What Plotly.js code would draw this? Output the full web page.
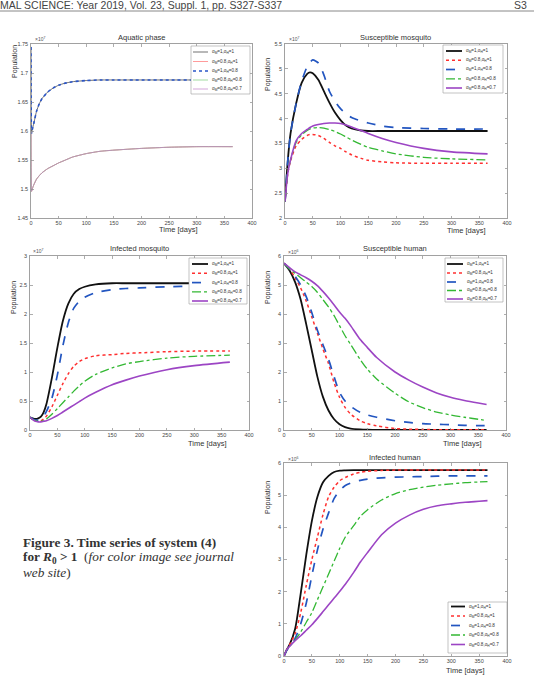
<!DOCTYPE html>
<html>
<head>
<meta charset="utf-8">
<script src="https://cdn.plot.ly/plotly-3.0.1.min.js"></script>
<style>
  html, body { margin: 0; padding: 0; background: #ffffff; }
  #fig { width: 534px; height: 677px; }
</style>
</head>
<body>
<div id="fig"></div>
<script>
// ---- Time series values (population in units of the axis multiplier) ----

// Aquatic phase (x10^7)
const tAquatic = [0, 1, 2, 3, 5, 10, 15, 20, 30, 40, 50, 60, 75, 100, 125, 150, 200, 250, 300, 365];
const aquaticM1 = [1.745, 1.596, 1.601, 1.605, 1.613, 1.634, 1.647, 1.656, 1.667, 1.674, 1.679, 1.682, 1.685, 1.687, 1.688, 1.688, 1.688, 1.688, 1.688, 1.688];
const aquaticM08 = [1.60, 1.496, 1.499, 1.502, 1.507, 1.517, 1.523, 1.528, 1.535, 1.540, 1.545, 1.549, 1.555, 1.561, 1.565, 1.567, 1.570, 1.572, 1.573, 1.573];

// Susceptible mosquito (x10^7)
const tSusMos = [0, 5, 10, 20, 30, 40, 45, 50, 60, 70, 80, 90, 100, 110, 120, 137, 150, 175, 200, 250, 300, 365];
const susMosA = [2.33, 3.15, 3.7, 4.3, 4.72, 4.9, 4.93, 4.91, 4.78, 4.55, 4.32, 4.12, 3.97, 3.86, 3.80, 3.76, 3.75, 3.75, 3.75, 3.75, 3.75, 3.75];
const susMosB = [2.33, 2.9, 3.15, 3.45, 3.58, 3.66, 3.68, 3.68, 3.66, 3.6, 3.52, 3.45, 3.4, 3.33, 3.27, 3.2, 3.16, 3.13, 3.11, 3.10, 3.10, 3.10];
const susMosC = [2.33, 3.15, 3.7, 4.3, 4.75, 5.05, 5.13, 5.18, 5.12, 4.88, 4.55, 4.35, 4.2, 4.1, 4.02, 3.95, 3.91, 3.85, 3.82, 3.80, 3.79, 3.79];
const susMosD = [2.33, 2.9, 3.17, 3.52, 3.67, 3.76, 3.79, 3.81, 3.82, 3.81, 3.78, 3.74, 3.69, 3.63, 3.57, 3.48, 3.42, 3.35, 3.29, 3.22, 3.19, 3.17];
const susMosE = [2.33, 2.9, 3.17, 3.55, 3.7, 3.78, 3.82, 3.85, 3.88, 3.9, 3.91, 3.91, 3.9, 3.87, 3.83, 3.76, 3.7, 3.6, 3.52, 3.4, 3.33, 3.29];

// Infected mosquito (x10^7)
const tInfMos = [0, 5, 10, 15, 20, 25, 30, 40, 50, 60, 70, 80, 90, 100, 120, 150, 175, 200, 250, 300, 365];
const infMosA = [0.22, 0.2, 0.19, 0.2, 0.23, 0.31, 0.45, 0.9, 1.42, 1.88, 2.18, 2.35, 2.43, 2.47, 2.51, 2.53, 2.53, 2.53, 2.53, 2.53, 2.53];
const infMosB = [0.22, 0.18, 0.16, 0.15, 0.16, 0.19, 0.24, 0.4, 0.6, 0.8, 0.97, 1.1, 1.18, 1.23, 1.28, 1.3, 1.32, 1.33, 1.35, 1.36, 1.36];
const infMosC = [0.22, 0.19, 0.17, 0.17, 0.19, 0.24, 0.32, 0.55, 0.95, 1.45, 1.85, 2.1, 2.22, 2.29, 2.37, 2.42, 2.44, 2.45, 2.47, 2.48, 2.48];
const infMosD = [0.22, 0.18, 0.16, 0.15, 0.15, 0.16, 0.19, 0.27, 0.37, 0.47, 0.57, 0.67, 0.76, 0.84, 0.96, 1.07, 1.14, 1.18, 1.24, 1.27, 1.29];
const infMosE = [0.22, 0.18, 0.15, 0.14, 0.14, 0.15, 0.16, 0.2, 0.25, 0.31, 0.37, 0.43, 0.49, 0.55, 0.65, 0.78, 0.86, 0.93, 1.04, 1.11, 1.17];

// Susceptible human (x10^6)
const tSusHum = [0, 10, 20, 30, 40, 50, 60, 70, 80, 90, 100, 110, 120, 137, 150, 167, 200, 225, 250, 275, 300, 325, 350, 365];
const susHumA = [5.75, 5.5, 5.1, 4.5, 3.65, 2.75, 1.85, 1.15, 0.68, 0.38, 0.2, 0.1, 0.05, 0.02, 0.01, 0.005, 0, 0, 0, 0, 0, 0, 0, 0];
const susHumB = [5.75, 5.55, 5.25, 4.9, 4.45, 3.9, 3.35, 2.8, 2.3, 1.65, 1.13, 0.78, 0.55, 0.32, 0.22, 0.14, 0.05, 0.03, 0.02, 0.01, 0.01, 0.01, 0.01, 0.01];
const susHumC = [5.75, 5.55, 5.3, 5.0, 4.6, 4.05, 3.45, 2.95, 2.45, 1.85, 1.3, 1.0, 0.82, 0.61, 0.52, 0.44, 0.32, 0.26, 0.22, 0.2, 0.18, 0.16, 0.15, 0.15];
const susHumD = [5.75, 5.55, 5.4, 5.25, 5.1, 4.95, 4.75, 4.5, 4.25, 3.95, 3.6, 3.25, 2.95, 2.44, 2.1, 1.76, 1.27, 0.97, 0.77, 0.62, 0.52, 0.44, 0.37, 0.33];
const susHumE = [5.75, 5.6, 5.45, 5.35, 5.25, 5.13, 4.98, 4.78, 4.56, 4.32, 4.07, 3.85, 3.6, 3.13, 2.85, 2.5, 2.0, 1.72, 1.48, 1.28, 1.13, 1.02, 0.93, 0.88];

// Infected human (x10^6)
const tInfHum = [0, 5, 10, 20, 30, 40, 50, 60, 70, 80, 90, 100, 110, 125, 137, 150, 175, 200, 225, 250, 275, 300, 325, 350, 365];
const infHumA = [0, 0.2, 0.35, 0.85, 1.95, 3.15, 4.2, 4.95, 5.4, 5.6, 5.72, 5.76, 5.77, 5.78, 5.78, 5.78, 5.78, 5.78, 5.78, 5.78, 5.78, 5.78, 5.78, 5.78, 5.78];
const infHumB = [0, 0.2, 0.35, 0.7, 1.35, 2.2, 3.0, 3.7, 4.4, 4.95, 5.25, 5.45, 5.55, 5.66, 5.71, 5.74, 5.77, 5.78, 5.78, 5.78, 5.78, 5.78, 5.78, 5.78, 5.78];
const infHumC = [0, 0.18, 0.3, 0.55, 1.0, 1.65, 2.5, 3.3, 3.95, 4.45, 4.9, 5.15, 5.3, 5.41, 5.46, 5.5, 5.54, 5.56, 5.57, 5.58, 5.59, 5.6, 5.6, 5.6, 5.6];
const infHumD = [0, 0.2, 0.3, 0.5, 0.75, 1.05, 1.35, 1.75, 2.15, 2.55, 2.95, 3.35, 3.7, 4.05, 4.34, 4.55, 4.85, 5.05, 5.17, 5.25, 5.31, 5.35, 5.39, 5.41, 5.42];
const infHumE = [0, 0.2, 0.3, 0.48, 0.63, 0.8, 0.97, 1.17, 1.38, 1.59, 1.8, 2.01, 2.23, 2.6, 2.92, 3.22, 3.77, 4.13, 4.38, 4.56, 4.67, 4.73, 4.78, 4.81, 4.83];

// Legend labels (fractional orders)
const caseLabels = [
  "α<sub>M</sub>=1,α<sub>H</sub>=1",
  "α<sub>M</sub>=0.8,α<sub>H</sub>=1",
  "α<sub>M</sub>=1,α<sub>H</sub>=0.8",
  "α<sub>M</sub>=0.8,α<sub>H</sub>=0.8",
  "α<sub>M</sub>=0.8,α<sub>H</sub>=0.7"
];

// ---- Styling ----
const W = 534, H = 677;
const FONT = "Liberation Sans, Arial, sans-serif";
const styles = [
  { color: "#111111", dash: "solid",   width: 1.8 },
  { color: "#ff3030", dash: "dot",     width: 1.5 },
  { color: "#2255c0", dash: "dash",    width: 1.7 },
  { color: "#33b833", dash: "dashdot", width: 1.3 },
  { color: "#9c45c4", dash: "solid",   width: 1.6 }
];
const thinStyles = [
  { color: "#333333", dash: "solid", width: 0.7 },
  { color: "#ff7070", dash: "solid", width: 0.7 },
  { color: "#2a55c8", dash: "dot",   width: 1.6 },
  { color: "#7acc7a", dash: "solid", width: 0.7 },
  { color: "#c080c8", dash: "solid", width: 0.7 }
];

const px = x => x / W;
const py = y => 1 - y / H;

// Panels: pixel boxes, y ranges, tick step, multiplier, titles
const panels = [
  { id: "", box: [31, 252, 44, 218], yr: [1.45, 1.75], dy: 0.05, exp: "7", title: "Aquatic phase",
    titleXY: [142, 37], ylab: [15, 62], xlab: [178, 229], expXY: [40, 39],
    t: tAquatic, series: [aquaticM1, aquaticM08, aquaticM1, aquaticM08, aquaticM08], thin: true,
    legend: [191, 250, 46, 94], rows: [52, 61.5, 71, 80, 89], sample: [193, 208] },
  { id: "2", box: [285, 507, 44, 218], yr: [2, 5.5], dy: 0.5, exp: "7", title: "Susceptible mosquito",
    titleXY: [395, 37], ylab: [268, 75], xlab: [466, 230], expXY: [294, 39],
    t: tSusMos, series: [susMosA, susMosB, susMosC, susMosD, susMosE],
    legend: [443, 503, 45, 93], rows: [51, 60.3, 69.5, 78.8, 88], sample: [446, 462] },
  { id: "3", box: [30, 249, 256, 430], yr: [0, 3], dy: 0.5, exp: "7", title: "Infected mosquito",
    titleXY: [139, 249], ylab: [14, 298], xlab: [207, 443], expXY: [38, 251],
    t: tInfMos, series: [infMosA, infMosB, infMosC, infMosD, infMosE],
    legend: [189, 247, 258, 304], rows: [264, 273.3, 282.6, 291.9, 301], sample: [192, 208] },
  { id: "4", box: [284, 506, 256, 430], yr: [0, 6], dy: 1, exp: "6", title: "Susceptible human",
    titleXY: [395, 249], ylab: [268, 288], xlab: [462, 443], expXY: [293, 252],
    t: tSusHum, series: [susHumA, susHumB, susHumC, susHumD, susHumE],
    legend: [445, 503, 258, 302], rows: [264, 273, 282, 290.5, 299], sample: [447, 463] },
  { id: "5", box: [284, 507, 463, 656], yr: [0, 6], dy: 1, exp: "6", title: "Infected human",
    titleXY: [395, 457], ylab: [268, 498], xlab: [465, 670], expXY: [293, 459],
    t: tInfHum, series: [infHumA, infHumB, infHumC, infHumD, infHumE],
    legend: [448, 507, 602, 653], rows: [606.5, 616, 625.5, 635, 644.5], sample: [451, 465] }
];

const traces = [];
const layout = {
  width: W, height: H,
  margin: { l: 0, r: 0, t: 0, b: 0 },
  paper_bgcolor: "#ffffff",
  plot_bgcolor: "#ffffff",
  showlegend: false,
  font: { family: FONT, color: "#333333" },
  annotations: [],
  shapes: []
};

function note(x, y, text, size, extra) {
  layout.annotations.push(Object.assign({
    xref: "paper", yref: "paper", x: px(x), y: py(y),
    text: text, showarrow: false, xanchor: "center", yanchor: "middle",
    font: { family: FONT, size: size, color: "#333333" }
  }, extra || {}));
}

panels.forEach(p => {
  const [x0, x1, y0, y1] = p.box;
  const axisCommon = {
    showline: true, linecolor: "#8a8a8a", linewidth: 0.8, mirror: "ticks",
    ticks: "inside", ticklen: 2.5, tickwidth: 0.7, tickcolor: "#8a8a8a",
    showgrid: false, zeroline: false, fixedrange: true,
    tickfont: { family: FONT, size: 5.5, color: "#444444" }
  };
  layout["xaxis" + p.id] = Object.assign({}, axisCommon, {
    domain: [px(x0), px(x1)], range: [0, 400], dtick: 50, tick0: 0,
    anchor: "y" + p.id
  });
  layout["yaxis" + p.id] = Object.assign({}, axisCommon, {
    domain: [py(y1), py(y0)], range: p.yr, dtick: p.dy, tick0: p.yr[0],
    anchor: "x" + p.id, ticklabelstandoff: 1
  });

  const sty = p.thin ? thinStyles : styles;
  p.series.forEach((ys, i) => {
    traces.push({
      type: "scatter", mode: "lines",
      x: p.t, y: ys, name: caseLabels[i],
      xaxis: "x" + p.id, yaxis: "y" + p.id,
      line: { color: sty[i].color, dash: sty[i].dash, width: sty[i].width,
              shape: "spline", smoothing: p.thin ? 0.5 : 0.7 },
      hoverinfo: "skip"
    });
  });

  // Titles and axis labels
  note(p.titleXY[0], p.titleXY[1], p.title, 7.5);
  note(p.ylab[0], p.ylab[1], "Population", 7, { textangle: -90 });
  note(p.xlab[0], p.xlab[1], "Time [days]", 7.5);
  note(p.expXY[0], p.expXY[1], "×10<sup>" + p.exp + "</sup>", 5, { font: { family: FONT, size: 5, color: "#555555" } });

  // Legend box
  const [lx0, lx1, ly0, ly1] = p.legend;
  layout.shapes.push({
    type: "rect", xref: "paper", yref: "paper",
    x0: px(lx0), x1: px(lx1), y0: py(ly1), y1: py(ly0),
    fillcolor: "#ffffff", line: { color: "#9a9a9a", width: 0.6 }, layer: "above"
  });
  p.rows.forEach((ry, i) => {
    layout.shapes.push({
      type: "line", xref: "paper", yref: "paper",
      x0: px(p.sample[0]), x1: px(p.sample[1]), y0: py(ry), y1: py(ry),
      line: { color: sty[i].color, dash: sty[i].dash, width: sty[i].width }, layer: "above"
    });
    note(p.sample[1] + 1.5, ry, caseLabels[i], 4.6, { xanchor: "left", font: { family: FONT, size: 4.6, color: "#333333" } });
  });
});

// Running page header
layout.shapes.push({
  type: "line", xref: "paper", yref: "paper",
  x0: 0, x1: 1, y0: py(11), y1: py(11),
  line: { color: "#888888", width: 1 }
});
note(-2, 4.5, "MAL SCIENCE: Year 2019, Vol. 23, Suppl. 1, pp. S327-S337", 10.5,
  { xanchor: "left", font: { family: FONT, size: 10.5, color: "#444444" } });
note(512, 4.5, "S3", 10.5, { xanchor: "left", font: { family: FONT, size: 10.5, color: "#444444" } });

// Figure caption
const SERIF = "Liberation Serif, Times New Roman, serif";
const capFont = { family: SERIF, size: 13.3, color: "#333333" };
note(21, 542, "<b>Figure 3. Time series of system (4)</b>", 13.3, { xanchor: "left", font: capFont });
note(21, 557, "<b>for <i>R</i><sub>0</sub> &gt; 1</b>  (<i>for color image see journal</i>", 13.3, { xanchor: "left", font: capFont });
note(21, 572, "<i>web site</i>)", 13.3, { xanchor: "left", font: capFont });

Plotly.newPlot("fig", traces, layout, { staticPlot: true, displayModeBar: false });
</script>
</body>
</html>
